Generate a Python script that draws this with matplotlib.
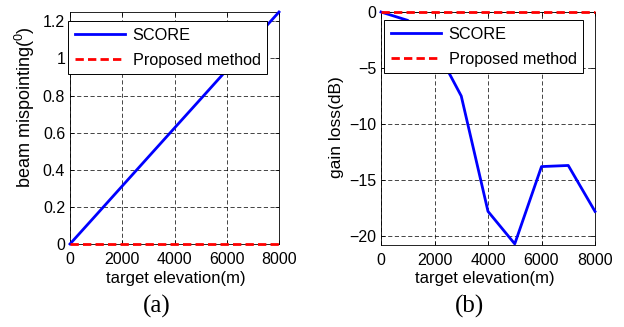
import matplotlib
matplotlib.use("Agg")
import matplotlib.pyplot as plt
import numpy as np

elev = [0, 1000, 2000, 3000, 4000, 5000, 6000, 7000, 8000]
mis_score = [0, 0.156, 0.3125, 0.469, 0.625, 0.781, 0.9375, 1.094, 1.25]
mis_prop = [0, 0, 0, 0, 0, 0, 0, 0, 0]
loss_score = [0, -0.75, -3.0, -7.5, -17.8, -20.7, -13.8, -13.7, -17.8]
loss_prop = [0, 0, 0, 0, 0, 0, 0, 0, 0]
xticks = [0, 2000, 4000, 6000, 8000]

plt.rcParams['font.family'] = ['Liberation Sans', 'DejaVu Sans']
plt.rcParams['mathtext.fontset'] = 'custom'
plt.rcParams['mathtext.rm'] = 'Liberation Sans'
plt.rcParams['mathtext.it'] = 'Liberation Sans'
plt.rcParams['font.size'] = 11.5

fig = plt.figure(figsize=(6.24, 3.27), dpi=100)
W, H = 624, 327
ax1 = fig.add_axes([70 / W, 1 - 244 / H, 209 / W, 232 / H])
ax2 = fig.add_axes([381 / W, 1 - 245 / H, 214 / W, 233 / H])

narrow = ['Liberation Sans Narrow', 'Liberation Sans', 'DejaVu Sans']

def style(ax, cx):
    ax.set_xlim(0, 8000)
    ax.set_xticks(xticks)
    ax.tick_params(direction='in', length=3, width=0.6, top=True, right=True, labelsize=11.5)
    ax.tick_params(axis='x', pad=6)
    ax.tick_params(axis='y', pad=3.5)
    ax.grid(True, color='black', linestyle=(0, (5, 3)), linewidth=0.6, alpha=0.85)
    ax.set_axisbelow(True)
    for s in ax.spines.values():
        s.set_linewidth(0.6)
    fig.text(cx / W, 1 - 279 / H, 'target elevation(m)', family=narrow, fontsize=12,
             ha='center', va='center')

ax1.plot(elev, mis_score, color='#0000ff', lw=2.0, label='SCORE', clip_on=False, zorder=3)
ax1.plot(elev, mis_prop, color='#ff0000', lw=2.0, ls=(0, (3, 1.5)), label='Proposed method', clip_on=False, zorder=4)
ax1.set_ylim(0, 1.25)
ax1.set_yticks([0, 0.2, 0.4, 0.6, 0.8, 1.0, 1.2])
ax1.set_yticklabels(['0', '0.2', '0.4', '0.6', '0.8', '1', '1.2'])
style(ax1, 176)
fig.text(25 / W, 1 - 107 / H, r'beam mispointing($^0$)', fontsize=13, rotation=90,
         ha='center', va='center')

ax2.plot(elev, loss_score, color='#0000ff', lw=2.0, label='SCORE', clip_on=False, zorder=3)
ax2.plot(elev, loss_prop, color='#ff0000', lw=2.0, ls=(0, (3, 1.5)), label='Proposed method', clip_on=False, zorder=4)
ax2.set_ylim(-20.8, 0)
ax2.set_yticks([-20, -15, -10, -5, 0])
style(ax2, 485)
fig.text(337 / W, 1 - 127 / H, 'gain loss(dB)', fontsize=12.5, rotation=90,
         ha='center', va='center')

for ax, (lx, ty) in ((ax1, (68, 21)), (ax2, (384, 20))):
    leg = ax.legend(loc='upper left', bbox_to_anchor=(lx / W, 1 - ty / H), bbox_transform=fig.transFigure,
                    borderaxespad=0, fancybox=False, framealpha=1, edgecolor='black',
                    borderpad=0.42, handlelength=3.1, handletextpad=0.45, labelspacing=0.6,
                    fontsize=11.7)
    leg.get_frame().set_linewidth(0.7)
    leg.set_zorder(10)

fig.text(157 / W, 1 - 306 / H, '(a)', family=['Liberation Serif'], fontsize=18, ha='center', va='center')
fig.text(470 / W, 1 - 306 / H, '(b)', family=['Liberation Serif'], fontsize=18, ha='center', va='center')

fig.savefig('out.png', dpi=100)
